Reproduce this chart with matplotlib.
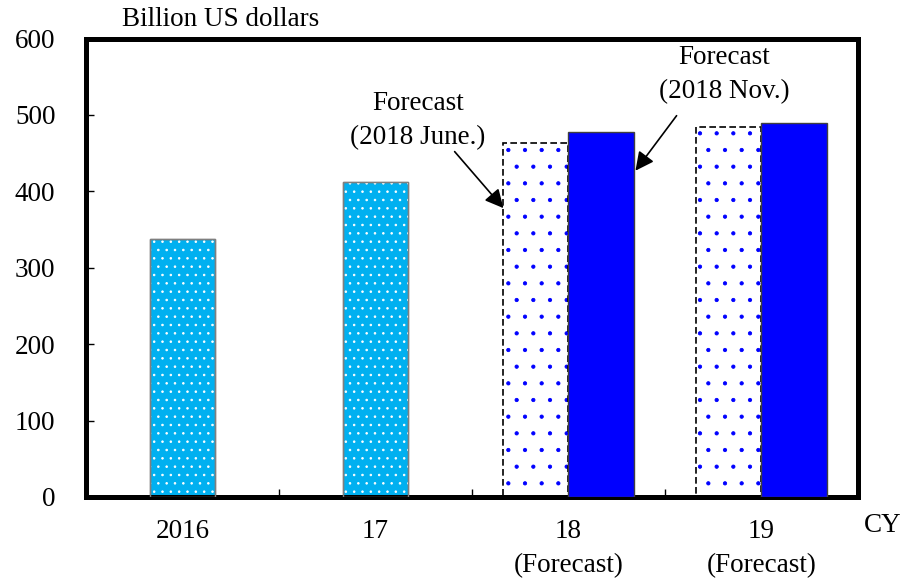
import matplotlib
matplotlib.use("Agg")
import matplotlib.pyplot as plt
import numpy as np

plt.rcParams['font.family'] = ['Liberation Serif', 'DejaVu Serif']
plt.rcParams['hatch.linewidth'] = 0.6

# Data
categories = ["2016", "17", "18\n(Forecast)", "19\n(Forecast)"]
actual_values = [338, 412]          # 2016, 2017
june_forecast = [463, 484]          # 2018, 2019 (forecast as of June 2018)
nov_forecast = [478, 490]           # 2018, 2019 (forecast as of Nov. 2018)
y_ticks = [0, 100, 200, 300, 400, 500, 600]

CYAN = "#00B0F0"
BLUE = "#0000FF"
FS = 19.5

fig = plt.figure(figsize=(9.11, 5.78), dpi=100)
ax = fig.add_axes([86/911, 1 - 497/578, (858-86)/911, (497-38.5)/578])

w = 0.337
x_act = np.array([0, 1])
x_fc = np.array([2, 3])

# actual bars: cyan with white dots
ax.bar(x_act, actual_values, width=w, color=CYAN, edgecolor="#7f7f7f", linewidth=1.0, zorder=2)
ax.bar(x_act, actual_values, width=w, facecolor="none", edgecolor="white", hatch="..", linewidth=0, zorder=3)
ax.bar(x_act, actual_values, width=w, facecolor="none", edgecolor="#7f7f7f", linewidth=1.0, zorder=4)

# June forecast: white with blue dots, dashed border
ax.bar(x_fc - w/2, june_forecast, width=w, facecolor="white", edgecolor="none", linewidth=0, zorder=2)
ax.bar(x_fc - w/2, june_forecast, width=w, facecolor="none", edgecolor=BLUE, hatch=".", linewidth=0, zorder=3)
ax.bar(x_fc - w/2, june_forecast, width=w, facecolor="none", edgecolor="black", linewidth=1.2,
       linestyle=(0, (4, 2)), zorder=4)

# Nov forecast: solid blue
ax.bar(x_fc + w/2, nov_forecast, width=w, color=BLUE, edgecolor="#404040", linewidth=1.0, zorder=4)

ax.set_xlim(-0.5, 3.5)
ax.set_ylim(0, 600)
ax.set_yticks(y_ticks)
ax.set_yticklabels([str(v) for v in y_ticks], fontsize=FS)
ax.set_xticks(range(4))
ax.set_xticklabels(categories, fontsize=FS, linespacing=1.45)
ax.set_xticks([0.5, 1.5, 2.5], minor=True)
ax.tick_params(axis='x', which='major', length=0, pad=16)
ax.tick_params(axis='x', which='minor', direction='in', length=6, width=1)
ax.tick_params(axis='y', which='major', direction='in', length=6, width=1, pad=22)
for s in ax.spines.values():
    s.set_linewidth(3.6)
    s.set_capstyle('projecting')

# Labels
fig.text(122/911, 1 - 20/578, "Billion US dollars", fontsize=FS, ha='left', va='center')
fig.text(864/911, 1 - 525.5/578, "CY", fontsize=FS, ha='left', va='center')

# Annotations
arrow_kw = dict(arrowstyle='-|>', mutation_scale=28, lw=1.2, color='black', shrinkA=0, shrinkB=0)
ax.text(1.22, 492, "Forecast\n(2018 June.)", fontsize=FS, ha='center', va='center', linespacing=1.48)
ax.annotate("", xy=(2 - w, june_forecast[0] - 85), xytext=(1.41, 452), arrowprops=arrow_kw)
ax.text(2.806, 553, "Forecast\n(2018 Nov.)", fontsize=FS, ha='center', va='center', linespacing=1.48)
ax.annotate("", xy=(2 + w + 0.01, nov_forecast[0] - 51), xytext=(2.56, 499), arrowprops=arrow_kw)

fig.savefig("out.png", dpi=100)
